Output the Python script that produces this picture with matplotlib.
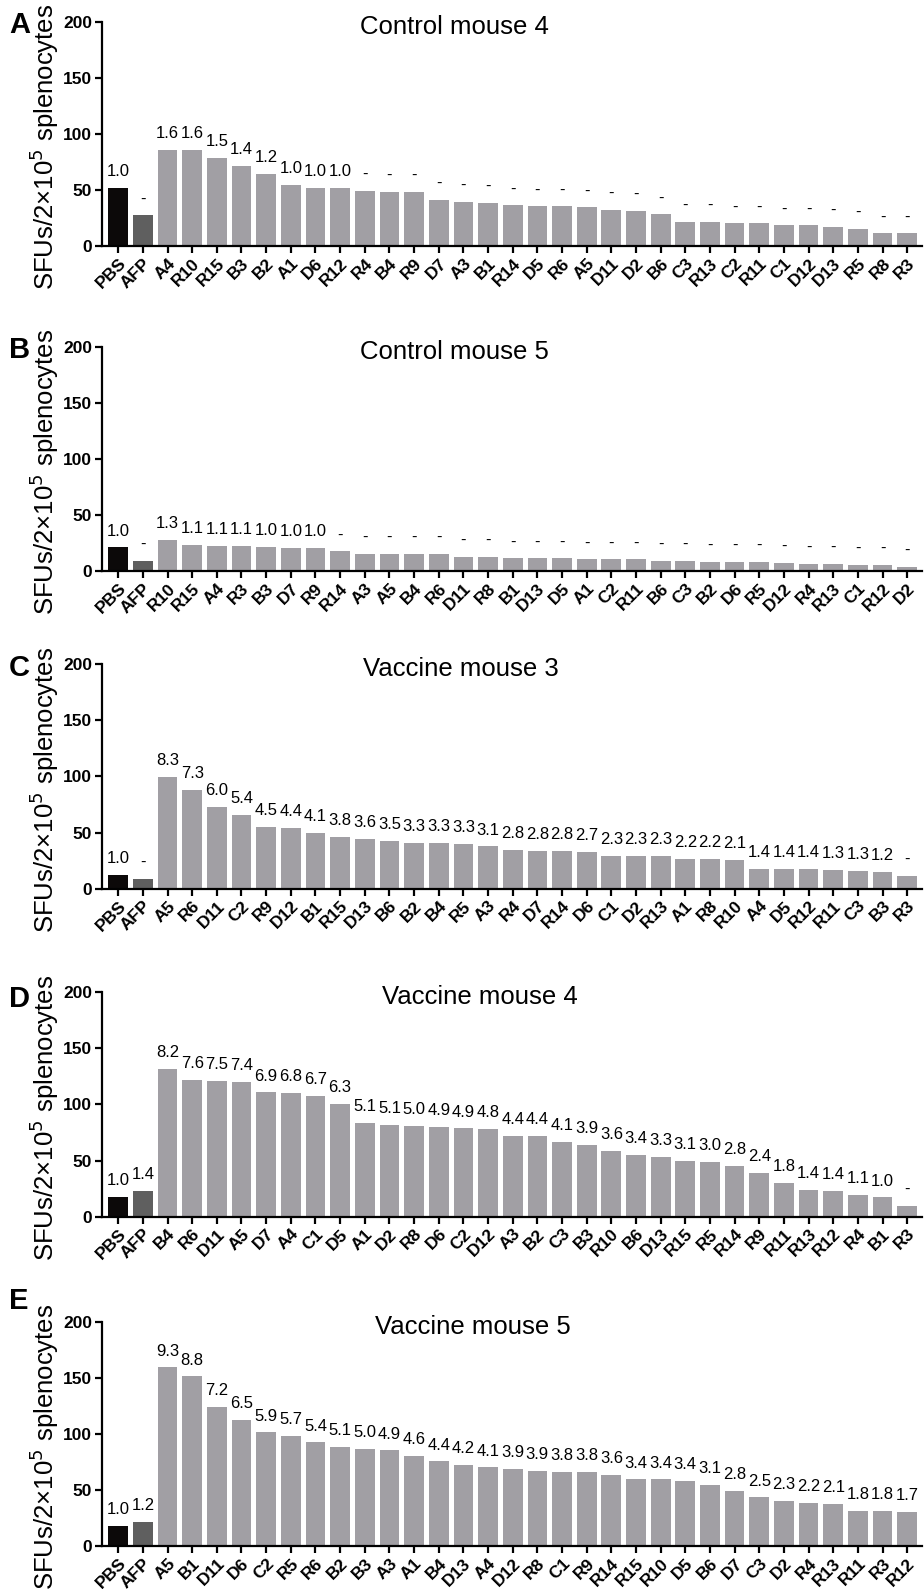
import matplotlib
matplotlib.use("Agg")
import matplotlib.pyplot as plt

plt.rcParams['font.family'] = ['Liberation Sans', 'DejaVu Sans']

# Control mouse 4
a_names = ["PBS", "AFP", "A4", "R10", "R15", "B3", "B2", "A1", "D6", "R12", "R4", "B4", "R9", "D7",
           "A3", "B1", "R14", "D5", "R6", "A5", "D11", "D2", "B6", "C3", "R13", "C2", "R11", "C1",
           "D12", "D13", "R5", "R8", "R3"]
a_vals = [52, 27.4, 85.4, 85.4, 78.6, 71.7, 64.6, 54.5, 51.5, 51.5, 49.4, 48.2, 48.2, 41.4,
          39.3, 38.4, 36.3, 35.4, 35.4, 34.5, 32.4, 31.3, 28.3, 21.4, 21.4, 20.2, 20.2, 18.5,
          18.5, 17.3, 15.2, 11.3, 11.3]
a_fold = ["1.0", "-", "1.6", "1.6", "1.5", "1.4", "1.2", "1.0", "1.0", "1.0"] + ["-"] * 23

# Control mouse 5
b_names = ["PBS", "AFP", "R10", "R15", "A4", "R3", "B3", "D7", "R9", "R14", "A3", "A5", "B4", "R6",
           "D11", "R8", "B1", "D13", "D5", "A1", "C2", "R11", "B6", "C3", "B2", "D6", "R5", "D12",
           "R4", "R13", "C1", "R12", "D2"]
b_vals = [21.1, 9.2, 27.6, 23.5, 22.3, 22.3, 21.4, 20.5, 20.5, 17.5, 15.5, 15.5, 15.5, 15.5,
          12.5, 12.5, 11.3, 11.3, 11.3, 10.4, 10.4, 10.4, 9.2, 9.2, 8.0, 8.0, 8.0, 7.1,
          6.2, 6.2, 5.3, 5.3, 3.6]
b_fold = ["1.0", "-", "1.3", "1.1", "1.1", "1.1", "1.0", "1.0", "1.0"] + ["-"] * 24

# Vaccine mouse 3
c_names = ["PBS", "AFP", "A5", "R6", "D11", "C2", "R9", "D12", "B1", "R15", "D13", "B6", "B2", "B4",
           "R5", "A3", "R4", "D7", "R14", "D6", "C1", "D2", "R13", "A1", "R8", "R10", "A4", "D5",
           "R12", "R11", "C3", "B3", "R3"]
c_vals = [12.5, 8.9, 99.9, 88, 72.8, 66, 55, 53.8, 49.9, 45.8, 44, 42.8, 41, 41,
          39.8, 37.7, 34.8, 33.9, 33.9, 33, 28.8, 28.8, 28.8, 26.7, 26.7, 25.6, 17.5, 17.5,
          17.5, 16.6, 15.8, 14.6, 11.6]
c_fold = ["1.0", "-", "8.3", "7.3", "6.0", "5.4", "4.5", "4.4", "4.1", "3.8", "3.6", "3.5", "3.3", "3.3",
          "3.3", "3.1", "2.8", "2.8", "2.8", "2.7", "2.3", "2.3", "2.3", "2.2", "2.2", "2.1", "1.4", "1.4",
          "1.4", "1.3", "1.3", "1.2", "-"]

# Vaccine mouse 4
d_names = ["PBS", "AFP", "B4", "R6", "D11", "A5", "D7", "A4", "C1", "D5", "A1", "D2", "R8", "D6",
           "C2", "D12", "A3", "B2", "C3", "B3", "R10", "B6", "D13", "R15", "R5", "R14", "R9", "R11",
           "R13", "R12", "R4", "B1", "R3"]
d_vals = [17.8, 23.2, 131.9, 121.8, 120.9, 119.8, 110.8, 110, 107.9, 100.7, 83.2, 82, 81.1, 79.9,
          78.7, 77.9, 71.9, 71.9, 66.9, 63.9, 58.8, 55, 52.9, 49.9, 49, 44.9, 38.9, 30,
          24.1, 23.2, 19, 17.2, 9.8]
d_fold = ["1.0", "1.4", "8.2", "7.6", "7.5", "7.4", "6.9", "6.8", "6.7", "6.3", "5.1", "5.1", "5.0", "4.9",
          "4.9", "4.8", "4.4", "4.4", "4.1", "3.9", "3.6", "3.4", "3.3", "3.1", "3.0", "2.8", "2.4", "1.8",
          "1.4", "1.4", "1.1", "1.0", "-"]

# Vaccine mouse 5
e_names = ["PBS", "AFP", "A5", "B1", "D11", "D6", "C2", "R5", "R6", "B2", "B3", "A3", "A1", "B4",
           "D13", "A4", "D12", "R8", "C1", "R9", "R14", "R15", "R10", "D5", "B6", "D7", "C3", "D2",
           "R4", "R13", "R11", "R3", "R12"]
e_vals = [17.8, 21.7, 159.3, 151.3, 123.9, 112.3, 101.3, 98.4, 92.4, 88.3, 86.5, 85.3, 80.5, 75.5,
          72.3, 70.1, 68.4, 67.2, 66.3, 66.3, 63.3, 59.4, 59.4, 58.2, 54.4, 49.3, 43.4, 40.4,
          38.3, 37.4, 31.5, 31.5, 30.3]
e_fold = ["1.0", "1.2", "9.3", "8.8", "7.2", "6.5", "5.9", "5.7", "5.4", "5.1", "5.0", "4.9", "4.6", "4.4",
          "4.2", "4.1", "3.9", "3.9", "3.8", "3.8", "3.6", "3.4", "3.4", "3.4", "3.1", "2.8", "2.5", "2.3",
          "2.2", "2.1", "1.8", "1.8", "1.7"]

titles = ["Control mouse 4", "Control mouse 5", "Vaccine mouse 3", "Vaccine mouse 4", "Vaccine mouse 5"]
letters = ["A", "B", "C", "D", "E"]

panels = [(a_names, a_vals, a_fold), (b_names, b_vals, b_fold), (c_names, c_vals, c_fold),
          (d_names, d_vals, d_fold), (e_names, e_vals, e_fold)]

W, H = 924, 1589
fig = plt.figure(figsize=(W / 100, H / 100), dpi=100)

# pixel positions of the axes (top), title centre x, letter centre y
ax_tops = [21.7, 346.7, 664.3, 992.3, 1321.7]
ax_h = 224.3
ax_left, ax_right = 101.7, 922
title_x = [454, 454, 461, 480, 473]
letter_y = [25, 350, 668, 999, 1301]

for k, (names, vals, fold) in enumerate(panels):
    top = ax_tops[k]
    ax = fig.add_axes([ax_left / W, 1 - (top + ax_h) / H, (ax_right - ax_left) / W, ax_h / H])
    colors = ["#0c0909", "#5f5f5f"] + ["#a19fa4"] * (len(names) - 2)
    x = list(range(len(names)))
    ax.bar(x, vals, width=0.8, color=colors)
    for xi, v, lab in zip(x, vals, fold):
        ax.annotate(lab, (xi, v), xytext=(0, 8.5), textcoords="offset points",
                    ha="center", va="baseline", fontsize=12)
    ax.set_xlim(-0.67, len(names) - 1 + 0.6)
    ax.set_ylim(0, 200)
    ax.set_yticks([0, 50, 100, 150, 200])
    ax.set_xticks(x)
    ax.set_xticklabels(names, rotation=45, ha="right", rotation_mode="anchor",
                       fontweight="bold", fontsize=12.5)
    for t in ax.get_yticklabels():
        t.set_fontweight("bold")
        t.set_fontsize(12.5)
    ax.spines["top"].set_visible(False)
    ax.spines["right"].set_visible(False)
    ax.spines["left"].set_linewidth(1.6)
    ax.spines["bottom"].set_linewidth(1.6)
    ax.tick_params(axis="both", width=1.6, length=5, pad=2)
    ax.set_ylabel("SFUs/2×10$^5$ splenocytes", fontsize=18.5)
    ax.yaxis.set_label_coords(-0.05, 0.44)
    fig.text(title_x[k] / W, 1 - (top + 5) / H, titles[k], ha="center", va="center", fontsize=18.5)
    fig.text(9 / W, 1 - letter_y[k] / H, letters[k], ha="left", va="center",
             fontsize=21, fontweight="bold")

fig.savefig("out.png", dpi=100)
